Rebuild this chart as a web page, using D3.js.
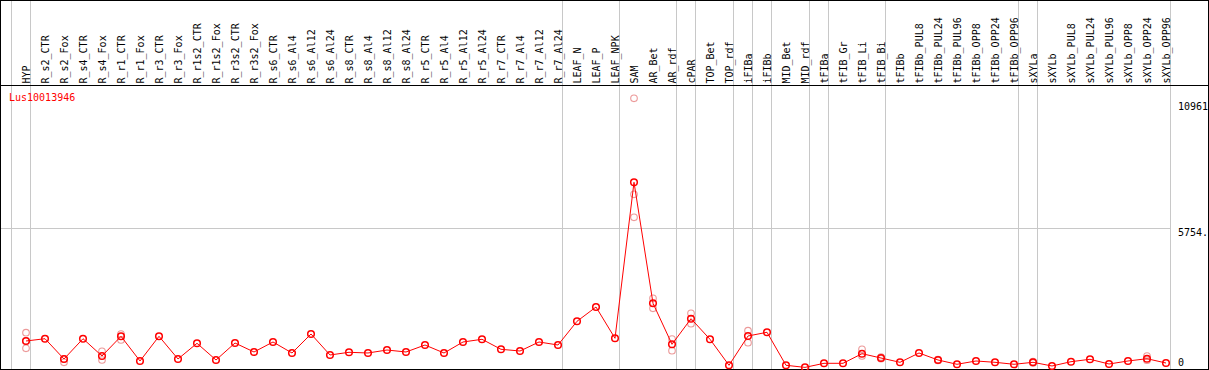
<!DOCTYPE html>
<html><head><meta charset="utf-8">
<script src="https://cdn.jsdelivr.net/npm/d3@7/dist/d3.min.js"></script>
<style>body{margin:0;background:#fff}svg{display:block}text{font-family:"DejaVu Sans Mono",monospace;font-size:10px}</style>
</head><body><svg id="c" width="1209" height="370"></svg>
<script>
const geneName = "Lus10013946";
const categories = ["HYP","R_s2_CTR","R_s2_Fox","R_s4_CTR","R_s4_Fox","R_r1_CTR","R_r1_Fox","R_r3_CTR","R_r3_Fox","R_r1s2_CTR","R_r1s2_Fox","R_r3s2_CTR","R_r3s2_Fox","R_s6_CTR","R_s6_Al4","R_s6_Al12","R_s6_Al24","R_s8_CTR","R_s8_Al4","R_s8_Al12","R_s8_Al24","R_r5_CTR","R_r5_Al4","R_r5_Al12","R_r5_Al24","R_r7_CTR","R_r7_Al4","R_r7_Al12","R_r7_Al24","LEAF_N","LEAF_P","LEAF_NPK","SAM","AR_Bet","AR_rdf","cPAR","TOP_Bet","TOP_rdf","iFIBa","iFIBb","MID_Bet","MID_rdf","tFIBa","tFIB_Gr","tFIB_Li","tFIB_Bi","tFIBb","tFIBb_PUL8","tFIBb_PUL24","tFIBb_PUL96","tFIBb_OPP8","tFIBb_OPP24","tFIBb_OPP96","sXYLa","sXYLb","sXYLb_PUL8","sXYLb_PUL24","sXYLb_PUL96","sXYLb_OPP8","sXYLb_OPP24","sXYLb_OPP96"];
const meanValues = [1091,1185,350,1185,473,1284,268,1284,350,996,309,1008,638,1050,597,1379,515,626,597,720,638,926,597,1050,1161,749,679,1050,926,1902,2490,1202,7623,2642,955,2009,1161,91,1297,1449,91,5,173,173,568,391,214,597,309,132,268,214,132,214,62,239,338,144,268,362,185];
// replicate values (only those distinguishable from the mean)
const replicateValues = [[1432,790,1091],[],[214,350],[],[667,309],[1379,1132],[],[],[],[],[],[],[],[],[],[],[],[],[],[],[],[],[],[],[],[],[],[],[],[],[],[],[11080,7129,6182],[2848,2437],[1173,691],[2231,1803],[],[],[1515,1021],[],[],[],[],[],[749,473],[430,360],[],[],[330,290],[],[],[],[],[240,190],[],[],[],[],[],[473,300],[]];
// indices of last category in each group (group separators)
const groupEnds = [-1,0,28,31,34,35,37,38,39,41,42,45,52,53,60];
const yTicks = [10961, 5754, 0];
const yTickLabels = ["10961","5754.","0"];
const yMax = 11508;

const svg = d3.select("#c");
const W = 1209, H = 370;
const x = d3.scalePoint().domain(categories).range([26, 1166]);
const step = x.step();
const y = d3.scaleLinear().domain([0, yMax]).range([367.5, 87.9]);
const px = i => i < 0 ? x(categories[0]) - step : x(categories[i]);

// vertical group separators
svg.append("g").selectAll("line").data(groupEnds).join("line")
  .attr("x1", d => Math.round(px(d) + 4) + 0.5).attr("x2", d => Math.round(px(d) + 4) + 0.5)
  .attr("y1", 0).attr("y2", 369).attr("stroke", "#c8c8c8").attr("stroke-width", 1);

// mid gridline
svg.append("line").attr("x1", 0).attr("x2", Math.round(px(60) + 4) + 0.5)
  .attr("y1", Math.round(y(5754)) + 0.5).attr("y2", Math.round(y(5754)) + 0.5)
  .attr("stroke", "#c8c8c8");

// header labels
svg.append("g").selectAll("text").data(categories).join("text")
  .attr("transform", d => `translate(${x(d) + 3.5},83.5) rotate(-90)`)
  .attr("fill", "#000").text(d => d);

// frame and divider
svg.append("rect").attr("x", 0.5).attr("y", 0.5).attr("width", 1208).attr("height", 369)
  .attr("fill", "none").attr("stroke", "#000");
svg.append("line").attr("x1", 0).attr("x2", W).attr("y1", 85.5).attr("y2", 85.5).attr("stroke", "#000");

// right value labels
svg.append("g").selectAll("text").data(yTicks).join("text")
  .attr("x", 1178).attr("y", d => Math.min(y(d) + 8.5, 365.5))
  .attr("fill", "#000").text((d, i) => yTickLabels[i]);

// gene name
svg.append("text").attr("x", 9).attr("y", 100.5).attr("fill", "#ff0000").text(geneName);

// replicates
const reps = [];
replicateValues.forEach((arr, i) => arr.forEach(v => reps.push({i, v})));
svg.append("g").selectAll("circle").data(reps).join("circle")
  .attr("cx", d => x(categories[d.i])).attr("cy", d => y(d.v)).attr("r", 3.3)
  .attr("fill", "none").attr("stroke", "#ec9a9a").attr("stroke-width", 1.1);

// mean line
const line = d3.line().x((d, i) => x(categories[i])).y(d => y(d));
svg.append("path").datum(meanValues).attr("d", line)
  .attr("fill", "none").attr("stroke", "#ff0000").attr("stroke-width", 1);

svg.append("g").selectAll("circle").data(meanValues).join("circle")
  .attr("cx", (d, i) => x(categories[i])).attr("cy", d => y(d)).attr("r", 3.3)
  .attr("fill", "none").attr("stroke", "#ff0000").attr("stroke-width", 1.5);
</script></body></html>
